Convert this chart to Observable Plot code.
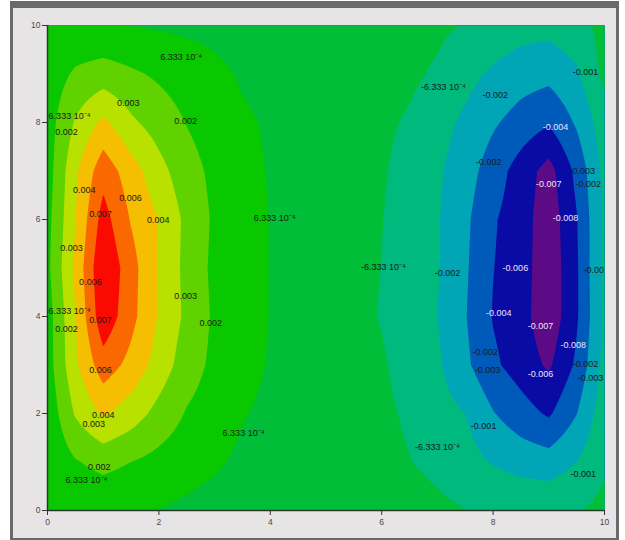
<!DOCTYPE html>
<html><head><meta charset="utf-8">
<script src="https://cdn.jsdelivr.net/npm/d3@7"></script>
<script src="https://cdn.jsdelivr.net/npm/@observablehq/plot@0.6"></script>
<style>
html,body{margin:0;padding:0;background:#fff;}
#panel{position:absolute;left:10px;top:1px;width:603px;height:530px;background:#e7e4e6;border:3px solid #6a6a6a;border-top-width:7px;}
#chart{position:absolute;left:0;top:0;}
</style></head><body>
<div id="panel"></div><div id="chart"></div>
<script>
// grid sample positions (rows from top y=10 to bottom y=0)
const gridX = [0,0.5,1,1.5,2,2.5,3,3.5,4,4.5,5,5.5,6,6.5,7,7.5,8,8.5,9,9.5,10];
const gridY = [10,9,8,7,6,5,4,3,2,1,0];
const row10 = [0.0007,0.0008,0.0007,0.0006,0.0005,0.0004,0.0003,0.0002,0.0001,0.00005,0, 0,-0.0001,-0.0002,-0.0004,-0.0007,-0.0011,-0.0014,-0.0015,-0.0011,-0.0002];
const row9  = [0.0011,0.0021,0.0025,0.0021,0.0017,0.0013,0.0009,0.0005,0.0003,0.00015,0, -0.0001,-0.0002,-0.0004,-0.0008,-0.0015,-0.0021,-0.0026,-0.0028,-0.0021,-0.0003];
const row8  = [0.0013,0.0033,0.0047,0.0034,0.0026,0.00185,0.0013,0.0008,0.0005,0.00022,0, -0.0001,-0.0004,-0.00077,-0.00143,-0.00215,-0.0030,-0.0037,-0.0043,-0.0030,-0.0012];
const row7  = [0.0013,0.0042,0.0065,0.0050,0.0036,0.0024,0.0016,0.0010,0.00055,0.00025,0, -0.0002,-0.0005,-0.0011,-0.0017,-0.0026,-0.0038,-0.0050,-0.0062,-0.0041,-0.0015];
const row6  = [0.0015,0.0044,0.0075,0.0056,0.0044,0.00285,0.0017,0.0011,0.0006,0.0003,0, -0.0003,-0.0006,-0.0012,-0.0018,-0.0029,-0.0043,-0.0051,-0.0065,-0.0045,-0.0016];
const row5  = [0.0016,0.0047,0.0082,0.0062,0.0043,0.0028,0.0016,0.0011,0.0006,0.0003,0, -0.0003,-0.00065,-0.0012,-0.0018,-0.0030,-0.0044,-0.0051,-0.0066,-0.0046,-0.0015];
const row4  = [0.0013,0.0044,0.0079,0.0061,0.0043,0.0029,0.0017,0.0011,0.0006,0.0003,0, -0.0003,-0.0007,-0.0012,-0.0019,-0.0031,-0.0045,-0.0052,-0.0066,-0.0046,-0.0016];
const row3  = [0.0013,0.0042,0.0064,0.0053,0.0039,0.0025,0.0016,0.0010,0.00055,0.00025,0, -0.0002,-0.0005,-0.0011,-0.0017,-0.0029,-0.0042,-0.0050,-0.0059,-0.0042,-0.0015];
const row2  = [0.0010,0.0033,0.0046,0.0038,0.00275,0.0018,0.0013,0.0007,0.0004,0.0002,0, -0.0002,-0.0004,-0.0008,-0.0014,-0.0019,-0.0031,-0.0039,-0.0046,-0.0032,-0.0011];
const row1  = [0.0008,0.0018,0.0023,0.0019,0.0015,0.0011,0.0008,0.0004,0.0002,0.0001,0, -0.0001,-0.0003,-0.0006,-0.0009,-0.0014,-0.0020,-0.0024,-0.0026,-0.0019,-0.0008];
const row0  = [0.0007,0.0008,0.0008,0.0007,0.0006,0.0004,0.0002,0.0001,0.0001,0,0, 0,-0.0001,-0.0002,-0.0004,-0.0006,-0.0007,-0.0008,-0.0008,-0.0007,-0.0003];

const thresholds = [-0.01,-0.0057,-0.00443,-0.00317,-0.0019,-0.000633,0.000633,0.0019,0.00317,0.00443,0.0057,0.00697];
const bandColors = ["#5c0a86","#0a0aa5","#005ab9","#00a6b6","#00b97d","#00be37","#0ac800","#5fd200","#b9e100","#f5be00","#fa6900","#fa0a00"];

const xTicks = [0,2,4,6,8,10];
const yTicks = [0,2,4,6,8,10];

const labelText = ["6.333 10⁻⁴","0.003","0.002","6.333 10⁻⁴","0.002","0.004","0.006","0.007","0.004","6.333 10⁻⁴","0.003","0.006","0.003","6.333 10⁻⁴","0.002","0.007","0.002","0.006","0.004","0.003","0.002","6.333 10⁻⁴","6.333 10⁻⁴",
  "-6.333 10⁻⁴","-0.002","-0.001","-0.004","-0.002","-0.003","-0.002","-0.007","-0.008","-6.333 10⁻⁴","-0.002","-0.006","-0.003","-0.004","-0.007","-0.008","-0.002","-0.003","-0.006","-0.002","-0.003","-0.001","-6.333 10⁻⁴","-0.001"];
const labelX = [2.4,1.45,2.48,0.02,0.34,0.66,1.49,0.95,1.99,4.08,0.43,0.77,2.48,0.02,0.34,0.95,2.93,0.95,1.0,0.83,0.93,0.7,3.52,
  7.11,8.04,9.66,9.12,7.92,9.6,9.71,9.0,9.3,6.03,7.18,8.4,9.85,8.1,8.85,9.44,7.86,7.9,8.85,9.66,9.75,7.83,7.0,9.62];
const labelY = [9.34,8.4,8.03,8.14,7.8,6.6,6.45,6.12,5.98,6.02,5.4,4.7,4.43,4.12,3.75,3.92,3.86,2.89,1.96,1.79,0.89,0.62,1.59,
  8.72,8.56,9.03,7.9,7.18,6.99,6.74,6.72,6.02,5.01,4.9,4.99,4.95,4.06,3.81,3.4,3.26,2.89,2.82,3.01,2.72,1.75,1.3,0.76];

const rows = [row10,row9,row8,row7,row6,row5,row4,row3,row2,row1,row0];
const dx = gridX[1]-gridX[0], dy = gridY[0]-gridY[1];
const nx = gridX.length, ny = gridY.length;
// bilinear reading of the sampled grid
function field(x, y) {
  const fx = (x - gridX[0]) / dx, fy = (gridY[0] - y) / dy;
  const i = Math.max(0, Math.min(nx - 2, Math.floor(fx)));
  const j = Math.max(0, Math.min(ny - 2, Math.floor(fy)));
  const tx = fx - i, ty = fy - j;
  const a = rows[j], b = rows[j + 1];
  return (a[i] * (1 - tx) + a[i + 1] * tx) * (1 - ty) + (b[i] * (1 - tx) + b[i + 1] * tx) * ty;
}
const labels = labelText.map((t,i)=>{
  const v = parseFloat(t) * (t.includes("10⁻⁴") ? 1e-4 : 1);
  return {x:labelX[i], y:labelY[i], text:t, light: v <= -0.004, edge: labelX[i] < 0.1};
});
const textOpts = {x:"x", y:"y", text:"text", fontSize:9, clip:true};

const plot = Plot.plot({
  width:625, height:540, marginLeft:47, marginRight:21, marginTop:25, marginBottom:30,
  style:{background:"transparent", fontFamily:"'Liberation Sans', Arial, sans-serif", fontSize:"8px", color:"#333"},
  x:{domain:[0,10]}, y:{domain:[0,10]},
  color:{type:"threshold", domain: thresholds.slice(1).map(t=>t-1e-9), range: bandColors},
  marks:[
    Plot.frame({fill: bandColors[0]}),
    Plot.contour({fill: field, x1: 0, x2: 10, y1: 0, y2: 10, thresholds, pixelSize: 1, stroke: "none"}),
    Plot.ruleX([0], {stroke:"#2a3a2a", strokeWidth:1.5}),
    Plot.ruleY([0], {stroke:"#2a3a2a", strokeWidth:1.5}),
    Plot.axisX(xTicks, {tickSize:5, tickPadding:3, label:null, fill:"#4a4a4a", fontSize:8.5}),
    Plot.axisY(yTicks, {tickSize:5, tickPadding:2, label:null, fill:"#4a4a4a", fontSize:8.5}),
    Plot.text(labels.filter(d=>!d.light && !d.edge), {...textOpts, fill:"#1a1a1a"}),
    Plot.text(labels.filter(d=>d.edge), {...textOpts, fill:"#1a1a1a", textAnchor:"start"}),
    Plot.text(labels.filter(d=>d.light), {...textOpts, fill:"#ece4ff"})
  ]
});
document.getElementById("chart").appendChild(plot);
</script>
</body></html>
